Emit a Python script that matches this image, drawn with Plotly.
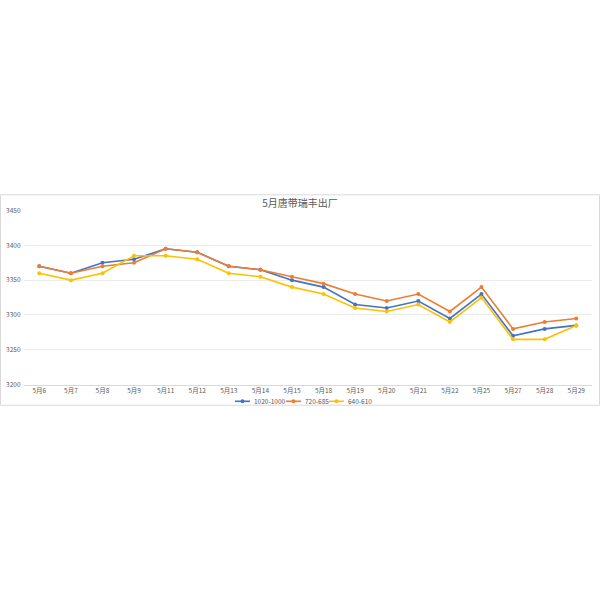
import plotly.graph_objects as go

dates = ["5月6", "5月7", "5月8", "5月9", "5月11", "5月12", "5月13", "5月14", "5月15",
         "5月18", "5月19", "5月20", "5月21", "5月22", "5月25", "5月27", "5月28", "5月29"]
s1020 = [3370, 3360, 3375, 3380, 3395, 3390, 3370, 3365, 3350, 3340, 3315, 3310, 3320, 3295, 3330, 3270, 3280, 3285]
s720 = [3370, 3360, 3370, 3375, 3395, 3390, 3370, 3365, 3355, 3345, 3330, 3320, 3330, 3305, 3340, 3280, 3290, 3295]
s640 = [3360, 3350, 3360, 3385, 3385, 3380, 3360, 3355, 3340, 3330, 3310, 3305, 3315, 3290, 3325, 3265, 3265, 3285]
names = ["1020-1000", "720-685", "640-610"]
colors = ["#4472C4", "#ED7D31", "#FFC000"]

fig = go.Figure()
for name, vals, c in zip(names, [s1020, s720, s640], colors):
    fig.add_trace(go.Scatter(x=dates, y=vals, name=name, mode="lines+markers",
                             line=dict(color=c, width=1.6),
                             marker=dict(color=c, size=4, symbol="circle"),
                             showlegend=False))

W = 600.0
H = 600.0

# custom compact legend (Excel style)
leg_y = 1 - 402 / H
leg_starts = [235, 286, 329]
for name, c, x0 in zip(names, colors, leg_starts):
    fig.add_shape(type="line", xref="paper", yref="paper",
                  x0=x0 / W, x1=(x0 + 15) / W, y0=leg_y, y1=leg_y,
                  line=dict(color=c, width=1.6))
    fig.add_shape(type="circle", xref="paper", yref="paper",
                  x0=(x0 + 5.5) / W, x1=(x0 + 9.5) / W, y0=leg_y - 2 / H, y1=leg_y + 2 / H,
                  line=dict(color=c, width=0), fillcolor=c)
    fig.add_annotation(xref="paper", yref="paper", x=(x0 + 17) / W, y=leg_y,
                       xanchor="left", yanchor="middle", text=name, showarrow=False,
                       font=dict(size=6.5, color="#595959"))

fig.update_layout(
    width=600, height=600,
    margin=dict(l=0, r=0, t=0, b=0),
    paper_bgcolor="white", plot_bgcolor="white",
    font=dict(family="Noto Sans CJK SC, Noto Sans, sans-serif", color="#595959", size=7),
    title=dict(text="5月唐带瑞丰出厂", x=0.5, xanchor="center", y=1 - 203 / H, yanchor="middle",
               font=dict(size=10, color="#595959")),
    xaxis=dict(domain=[23.5 / W, 592 / W], type="category", showgrid=False,
               showline=True, linecolor="#D9D9D9", linewidth=1, ticks="",
               tickfont=dict(size=6.5, color="#595959"), range=[-0.5, 17.5], fixedrange=True),
    yaxis=dict(domain=[1 - 385 / H, 1 - 208 / H], range=[3200, 3450], dtick=50,
               showgrid=True, gridcolor="#EBEBEB", gridwidth=1, zeroline=False,
               showline=False, ticks="", tickfont=dict(size=6.5, color="#595959"), ticklabelstandoff=2),
    showlegend=False,
)
fig.add_shape(type="rect", xref="paper", yref="paper",
              x0=0.5 / W, x1=599.5 / W, y0=1 - 406 / H, y1=1 - 192 / H,
              line=dict(color="#D9D9D9", width=1), fillcolor="rgba(0,0,0,0)", layer="below")

fig.write_html("out.html")
